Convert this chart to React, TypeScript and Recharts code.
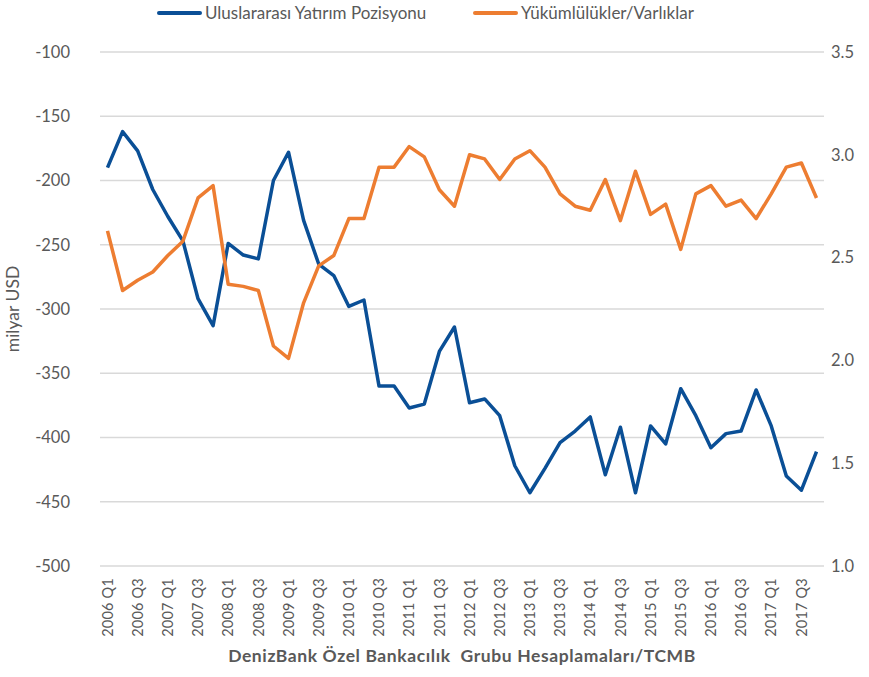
import { CartesianGrid, Line, LineChart, XAxis, YAxis } from "recharts";

// quarters 2006 Q1 .. 2017 Q4
const years = [2006, 2007, 2008, 2009, 2010, 2011, 2012, 2013, 2014, 2015, 2016, 2017];
const quarters = years.flatMap((y) => [1, 2, 3, 4].map((q) => `${y} Q${q}`));

// Uluslararası Yatırım Pozisyonu, milyar USD (left axis)
const uyp = [
  -190, -162, -177, -207, -228, -247, -292, -313,
  -249, -258, -261, -200, -178, -231, -265, -274,
  -298, -293, -360, -360, -377, -374, -333, -314,
  -373, -370, -383, -422, -443, -424, -404, -395,
  -384, -429, -392, -443, -391, -405, -362, -383,
  -408, -397, -395, -363, -391, -430, -441, -411,
];

// Yükümlülükler/Varlıklar (right axis)
const ratio = [
  2.63, 2.34, 2.39, 2.43, 2.51, 2.58, 2.79, 2.85,
  2.37, 2.36, 2.34, 2.07, 2.01, 2.28, 2.46, 2.51,
  2.69, 2.69, 2.94, 2.94, 3.04, 2.99, 2.83, 2.75,
  3.0, 2.98, 2.88, 2.98, 3.02, 2.94, 2.81, 2.75,
  2.73, 2.88, 2.68, 2.92, 2.71, 2.76, 2.54, 2.81,
  2.85, 2.75, 2.78, 2.69, 2.81, 2.94, 2.96, 2.79,
];

const leftTicks = [-500, -450, -400, -350, -300, -250, -200, -150, -100];
const rightTicks = [1.0, 1.5, 2.0, 2.5, 3.0, 3.5];

const data = quarters.map((q, i) => ({ q, uyp: uyp[i], ratio: ratio[i] }));

const blue = "#0a4f96";
const orange = "#ed7d31";
const grey = "#595959";
const font = "Lato, 'Open Sans', sans-serif";

function QuarterTick({ x, y, payload }: any) {
  return (
    <text
      x={x}
      y={y}
      transform={`rotate(-90 ${x} ${y})`}
      textAnchor="end"
      dy="0.36em"
      fill={grey}
      fontSize={14.5}
      letterSpacing={0.2}
      fontFamily={font}
    >
      {payload.value}
    </text>
  );
}

function LeftTitle({ viewBox }: any) {
  const cy = viewBox.y + viewBox.height / 2;
  return (
    <text x={13} y={cy} transform={`rotate(-90 13 ${cy})`} textAnchor="middle" dy="0.35em" fill={grey} fontSize={17.5} fontFamily={font}>
      milyar USD
    </text>
  );
}

function SourceTitle({ viewBox }: any) {
  const cx = viewBox.x + viewBox.width / 2;
  return (
    <text x={cx} y={662} textAnchor="middle" fill={grey} fontSize={17.5} fontWeight="bold" letterSpacing={0.6} fontFamily={font}>
      {"DenizBank Özel Bankacılık\u00a0 Grubu Hesaplamaları/TCMB"}
    </text>
  );
}

function LegendRow() {
  const item = (color: string, label: string, left: number) => (
    <div style={{ position: "absolute", left, top: 2, display: "flex", alignItems: "center" }}>
      <div style={{ width: 45, height: 4, background: color, borderRadius: 2, marginRight: 3 }} />
      <span style={{ color: grey, fontSize: 17, fontFamily: font, whiteSpace: "nowrap" }}>{label}</span>
    </div>
  );
  return (
    <>
      {item(blue, "Uluslararası Yatırım Pozisyonu", 157)}
      {item(orange, "Yükümlülükler/Varlıklar", 473)}
    </>
  );
}

export default function App() {
  return (
    <div style={{ position: "absolute", left: 0, top: 0, width: 869, height: 677, background: "#fff" }}>
      <LegendRow />
      <LineChart width={869} height={677} data={data} margin={{ top: 52, right: 0, bottom: 0, left: 0 }}>
        <CartesianGrid yAxisId="left" vertical={false} stroke="#d9d9d9" strokeWidth={1.3} />
        <XAxis
          dataKey="q"
          interval={1}
          height={111}
          tick={<QuarterTick />}
          tickLine={false}
          axisLine={false}
          tickSize={0}
          tickMargin={12}
          padding={{ left: 7.5, right: 7.5 }}
          label={<SourceTitle />}
        />
        <YAxis
          yAxisId="left"
          domain={[-500, -100]}
          ticks={leftTicks}
          width={100}
          axisLine={false}
          tickLine={false}
          tickSize={0}
          tickMargin={30}
          tick={{ fill: grey, fontSize: 16.5, fontFamily: font }}
          label={<LeftTitle />}
        />
        <YAxis
          yAxisId="right"
          orientation="right"
          domain={[1, 3.5]}
          ticks={rightTicks}
          width={45}
          axisLine={false}
          tickLine={false}
          tickSize={0}
          tickMargin={7}
          tickFormatter={(v: number) => v.toFixed(1)}
          tick={{ fill: grey, fontSize: 16.5, fontFamily: font, textAnchor: "start" }}
        />
        <Line yAxisId="left" dataKey="uyp" stroke={blue} strokeWidth={3.5} dot={false} isAnimationActive={false} strokeLinejoin="round" />
        <Line yAxisId="right" dataKey="ratio" stroke={orange} strokeWidth={3.5} dot={false} isAnimationActive={false} strokeLinejoin="round" />
      </LineChart>
    </div>
  );
}
